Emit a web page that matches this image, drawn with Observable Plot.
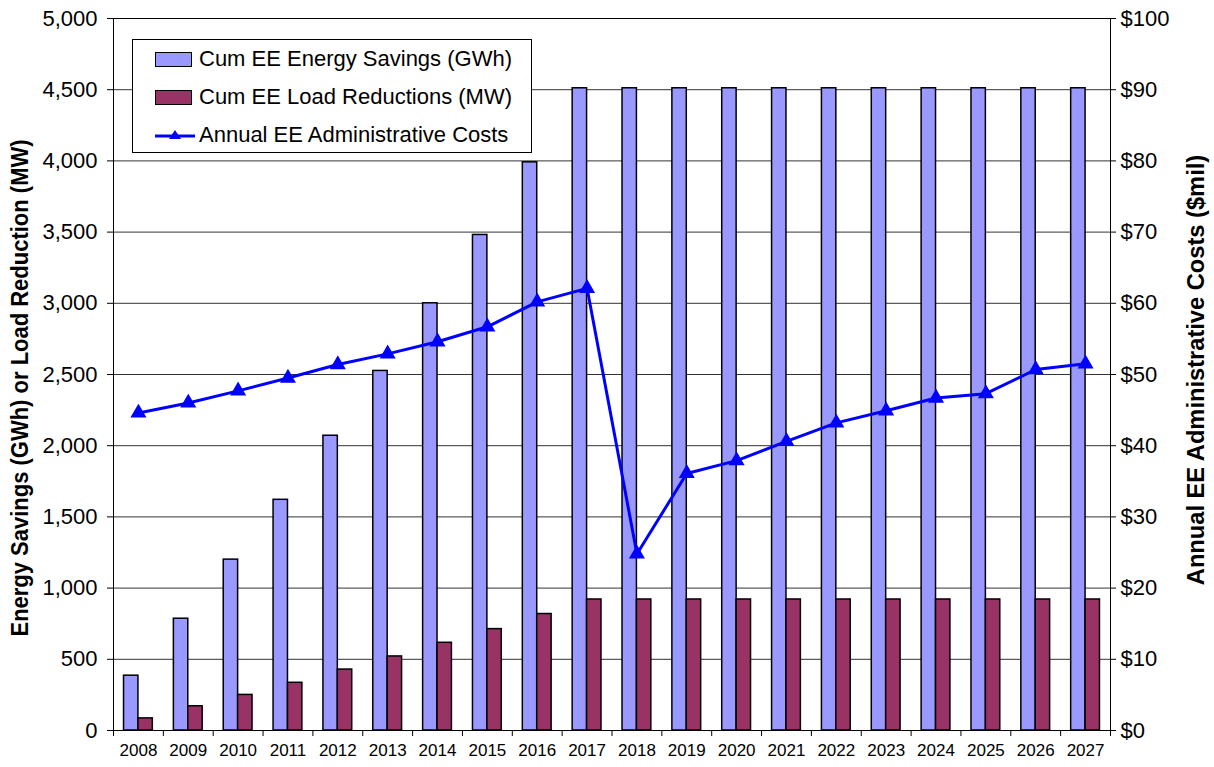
<!DOCTYPE html>
<html>
<head>
<meta charset="utf-8">
<script src="https://cdn.jsdelivr.net/npm/d3@7"></script>
<script src="https://cdn.jsdelivr.net/npm/@observablehq/plot@0.6"></script>
<style>
  html, body { margin: 0; padding: 0; background: #fff; }
  #wrap { position: relative; width: 1214px; height: 767px; font-family: "Liberation Sans", Arial, sans-serif; }
  .ylab { position: absolute; font-family: "Liberation Sans", Arial, sans-serif; font-weight: bold; font-size: 23px; line-height: 24px; white-space: nowrap; transform-origin: center center; }
  #legend { position: absolute; left: 132px; top: 39px; width: 400px; height: 114px; border: 1px solid #000; background: #fff; box-sizing: border-box; font-size: 22px; }
  .row { position: absolute; left: 22px; height: 24px; line-height: 24px; display: flex; align-items: center; }
  .sw { width: 35px; height: 13px; border: 1px solid #000; margin-right: 7px; }
  .ln { width: 40px; height: 20px; margin-right: 4px; }
</style>
</head>
<body>
<div id="wrap"></div>
<script>
const years = ["2008","2009","2010","2011","2012","2013","2014","2015","2016","2017","2018","2019","2020","2021","2022","2023","2024","2025","2026","2027"];
const energySavings = [385, 785, 1200, 1620, 2070, 2525, 3000, 3480, 3990, 4510, 4510, 4510, 4510, 4510, 4510, 4510, 4510, 4510, 4510, 4510];
const loadReductions = [85, 170, 250, 335, 428, 520, 616, 712, 818, 920, 920, 920, 920, 920, 920, 920, 920, 920, 920, 920];
const adminCosts = [44.6, 46.0, 47.7, 49.5, 51.4, 52.9, 54.6, 56.7, 60.2, 62.1, 24.8, 36.1, 37.9, 40.6, 43.2, 44.9, 46.7, 47.3, 50.7, 51.5];
const leftTicks = d3.range(0, 5001, 500);
const rightTicks = d3.range(0, 101, 10);

const W = 1214, H = 767, mL = 113, mR = 104, mT = 18, mB = 37;
const step = (W - mL - mR) / years.length;
const ratio = 5000 / 100; // right axis maps $0–$100 onto 0–5000
const barW = 14.4;
const pad = 1 - (2 * barW) / step;

const rows = years.map((y, i) => ({year: y, energy: energySavings[i], load: loadReductions[i], cost: adminCosts[i]}));

const chart = Plot.plot({
  width: W, height: H,
  marginLeft: mL, marginRight: mR, marginTop: mT, marginBottom: mB,
  style: {fontFamily: "'Liberation Sans', Arial, sans-serif", color: "#000", background: "#fff"},
  x: {domain: years, paddingInner: pad, paddingOuter: pad / 2, align: 0.5, round: false, label: null},
  y: {domain: [0, 5000], label: null},
  marks: [
    Plot.gridY(leftTicks, {stroke: "#000", strokeOpacity: 0.8, strokeWidth: 1}),
    Plot.barY(rows, {x: "year", y: "energy", fill: "#9999FF", stroke: "#000", strokeWidth: 1.5, insetRight: barW}),
    Plot.barY(rows, {x: "year", y: "load", fill: "#993366", stroke: "#000", strokeWidth: 1.5, insetLeft: barW}),
    Plot.frame({stroke: "#000", strokeWidth: 1}),
    Plot.ruleX(rows, {x: "year", y1: 0, y2: 0, dx: -step / 2, insetBottom: -6, stroke: "#000"}),
    Plot.ruleX(rows.slice(-1), {x: "year", y1: 0, y2: 0, dx: step / 2, insetBottom: -6, stroke: "#000"}),
    Plot.line(rows, {x: "year", y: d => d.cost * ratio, stroke: "#0000FF", strokeWidth: 3}),
    Plot.dot(rows, {x: "year", y: d => d.cost * ratio, symbol: "triangle", r: 5, fill: "#0000FF", stroke: "#0000FF"}),
    Plot.axisY(leftTicks, {anchor: "left", tickSize: 6, tickPadding: 10, fontSize: 22, tickFormat: d3.format(","), label: null}),
    Plot.axisY(rightTicks.map(d => d * ratio), {anchor: "right", tickSize: 5, tickPadding: 5, fontSize: 22, tickFormat: d => "$" + (d / ratio), label: null}),
    Plot.axisX({tickSize: 0, tickPadding: 13, fontSize: 17, label: null})
  ]
});

const wrap = document.getElementById("wrap");
wrap.appendChild(chart);

function place(text, cx, cy, len) {
  const el = document.createElement("div");
  el.className = "ylab";
  el.textContent = text;
  wrap.appendChild(el);
  const w = el.offsetWidth, h = el.offsetHeight;
  el.style.left = (cx - w / 2) + "px";
  el.style.top = (cy - h / 2) + "px";
  el.style.transform = `rotate(-90deg) scaleX(${len / w})`;
}
place("Energy Savings (GWh) or Load Reduction (MW)", 20, 388, 497);
place("Annual EE Administrative Costs ($mil)", 1196, 370, 430);

const legendItems = [
  {label: "Cum EE Energy Savings (GWh)", type: "bar", color: "#9999FF"},
  {label: "Cum EE Load Reductions (MW)", type: "bar", color: "#993366"},
  {label: "Annual EE Administrative Costs", type: "line", color: "#0000FF"}
];
const lg = document.createElement("div");
lg.id = "legend";
legendItems.forEach((it, i) => {
  const row = document.createElement("div");
  row.className = "row";
  row.style.top = (7 + i * 38) + "px";
  if (it.type === "bar") {
    const s = document.createElement("div");
    s.className = "sw";
    s.style.background = it.color;
    row.appendChild(s);
  } else {
    const s = document.createElementNS("http://www.w3.org/2000/svg", "svg");
    s.setAttribute("class", "ln");
    s.setAttribute("width", 40); s.setAttribute("height", 20);
    s.innerHTML = `<line x1="0" x2="40" y1="11" y2="11" stroke="${it.color}" stroke-width="3"/><path d="M20,5 L26,14 L14,14 Z" fill="${it.color}"/>`;
    row.appendChild(s);
  }
  const t = document.createElement("span");
  t.textContent = it.label;
  row.appendChild(t);
  lg.appendChild(row);
});
wrap.appendChild(lg);
</script>
</body>
</html>
